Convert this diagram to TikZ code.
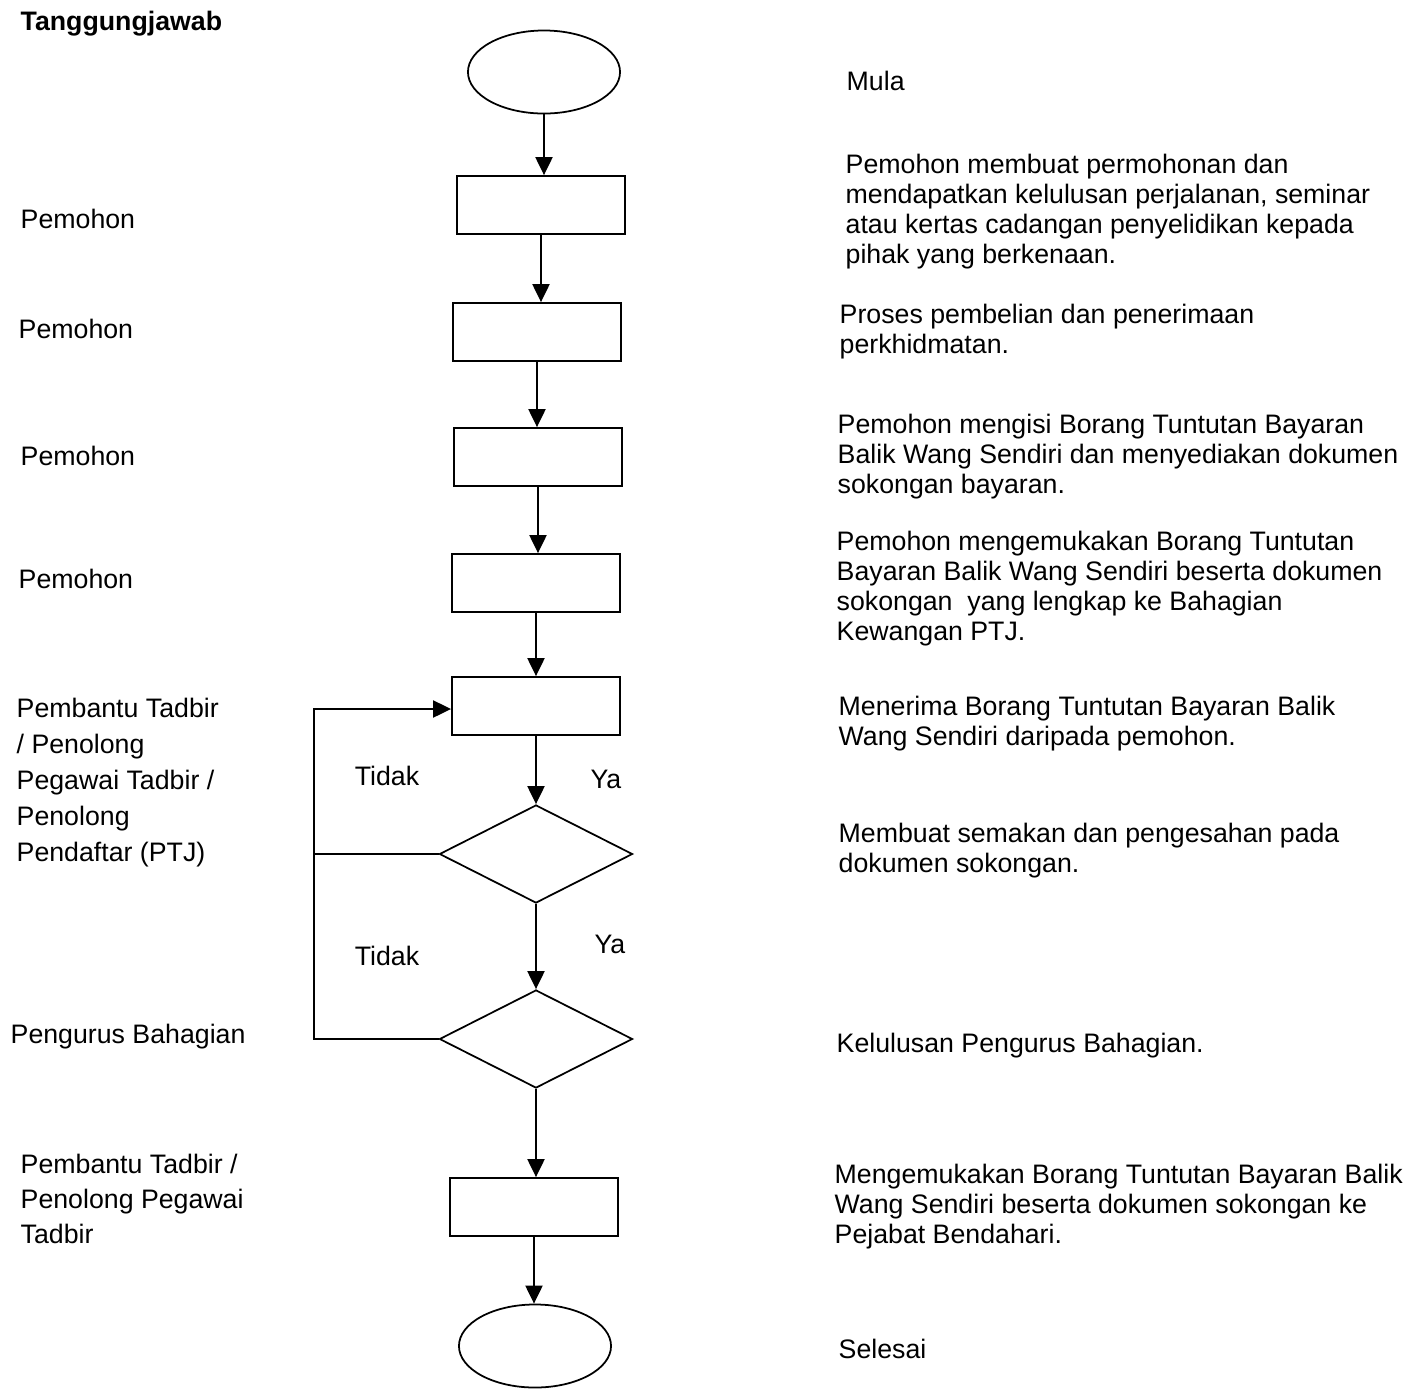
\documentclass[tikz,border=0pt]{standalone}
\usepackage{fontspec}
\setmainfont{Liberation Sans}
\usetikzlibrary{shapes.geometric,arrows.meta}
\tikzset{
  kotak/.style={draw, line width=0.5pt, minimum width=1.68cm, minimum height=0.58cm, inner sep=0},
  bujur/.style={draw, ellipse, line width=0.5pt, minimum width=1.52cm, minimum height=0.83cm, inner sep=0},
  semakan/.style={draw, diamond, line width=0.5pt, minimum width=1.93cm, minimum height=0.98cm, inner sep=0},
  anak/.style={-{Triangle[length=1.8mm,width=1.7mm]}, line width=0.6pt},
  garis/.style={line width=0.6pt},
  teks/.style={anchor=north west, align=left, inner sep=0, font=\fontsize{7.6}{8.55}\selectfont},
  label/.style={inner sep=0, font=\fontsize{7.6}{8.55}\selectfont},
}
\begin{document}
\begin{tikzpicture}[x=0.01cm, y=-0.01cm]
            \useasboundingbox (0,0) rectangle (1423,1393);
            \node[bujur] (mula) at (544,72) {};
            \node[kotak] (mohon) at (541,205) {};
            \node[kotak] (beli) at (537,332) {};
            \node[kotak] (isi) at (538,457) {};
            \node[kotak] (hantar) at (536,583) {};
            \node[kotak] (terima) at (536,706) {};
            \node[semakan] (semak) at (536,854) {};
            \node[semakan] (lulus) at (536,1039) {};
            \node[kotak] (bendahari) at (534,1207) {};
            \node[bujur] (selesai) at (535,1346) {};
            \coordinate (balik) at (314,709);
            \draw[anak] (mula.south) -- (mula.south |- mohon.north);
            \draw[anak] (mohon.south) -- (mohon.south |- beli.north);
            \draw[anak] (beli.south) -- (beli.south |- isi.north);
            \draw[anak] (isi.south) -- (isi.south |- hantar.north);
            \draw[anak] (hantar.south) -- (hantar.south |- terima.north);
            \draw[anak] (terima.south) -- (terima.south |- semak.north);
            \draw[anak] (semak.south) -- (semak.south |- lulus.north);
            \draw[anak] (lulus.south) -- (lulus.south |- bendahari.north);
            \draw[anak] (bendahari.south) -- (bendahari.south |- selesai.north);
            \draw[garis] (semak.west) -- (semak.west -| balik);
            \draw[anak] (lulus.west) -- (lulus.west -| balik) -- (balik) -- (terima.west |- balik);
            \node[label] (tidak1) at (387,776) {Tidak};
            \node[label] (tidak2) at (387,956) {Tidak};
            \node[label] (ya1) at (606,779) {Ya};
            \node[label] (ya2) at (610,944) {Ya};
            % tanggungjawab
            \node[teks, font=\fontsize{7.6}{8.55}\selectfont\bfseries] (tajuk) at (20,10) {Tanggungjawab};
            \node[teks] (t1) at (20,208) {Pemohon};
            \node[teks] (t2) at (18,318) {Pemohon};
            \node[teks] (t3) at (20,445) {Pemohon};
            \node[teks] (t4) at (18,568) {Pemohon};
            \node[teks, font=\fontsize{7.6}{10.24}\selectfont] (t5) at (16,697) {Pembantu Tadbir\\/ Penolong\\Pegawai Tadbir /\\Penolong\\Pendaftar (PTJ)};
            \node[teks] (t6) at (10,1023) {Pengurus Bahagian};
            \node[teks, font=\fontsize{7.6}{9.96}\selectfont] (t7) at (20,1153) {Pembantu Tadbir /\\Penolong Pegawai\\Tadbir};
            % keterangan
            \node[teks] (k0) at (846,70) {Mula};
            \node[teks] (k1) at (845,153) {Pemohon membuat permohonan dan\\mendapatkan kelulusan perjalanan, seminar\\atau kertas cadangan penyelidikan kepada\\pihak yang berkenaan.};
            \node[teks] (k2) at (839,303) {Proses pembelian dan penerimaan\\perkhidmatan.};
            \node[teks] (k3) at (837,413) {Pemohon mengisi Borang Tuntutan Bayaran\\Balik Wang Sendiri dan menyediakan dokumen\\sokongan bayaran.};
            \node[teks] (k4) at (836,530) {Pemohon mengemukakan Borang Tuntutan\\Bayaran Balik Wang Sendiri beserta dokumen\\sokongan\ \ yang lengkap ke Bahagian\\Kewangan PTJ.};
            \node[teks] (k5) at (838,695) {Menerima Borang Tuntutan Bayaran Balik\\Wang Sendiri daripada pemohon.};
            \node[teks] (k6) at (838,822) {Membuat semakan dan pengesahan pada\\dokumen sokongan.};
            \node[teks] (k7) at (836,1032) {Kelulusan Pengurus Bahagian.};
            \node[teks] (k8) at (834,1163) {Mengemukakan Borang Tuntutan Bayaran Balik\\Wang Sendiri beserta dokumen sokongan ke\\Pejabat Bendahari.};
            \node[teks] (k9) at (838,1338) {Selesai};
\end{tikzpicture}
\end{document}
